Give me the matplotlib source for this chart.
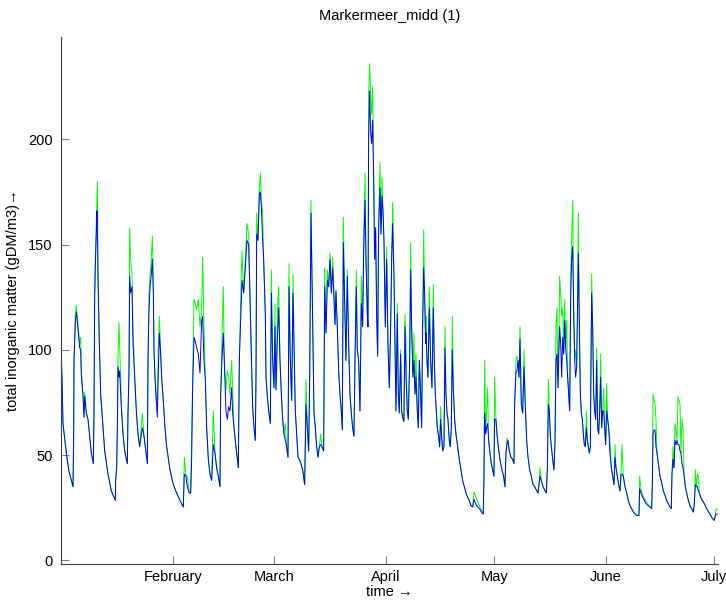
import matplotlib
matplotlib.use("Agg")
import matplotlib.pyplot as plt
import numpy as np

plt.rcParams['font.family'] = ['Liberation Sans', 'DejaVu Sans']

# ---- data (day of year offset from 1 January, value in gDM/m3) ----
days = [
    0.0, 0.28, 0.55, 1.0, 1.48, 2.12, 3.33, 3.51, 3.60, 3.97, 4.25, 4.71, 5.17, 5.45, 5.63, 6.10,
    6.37, 6.56, 7.02, 7.48, 7.94, 8.40, 8.96, 9.14, 9.33, 9.51, 9.97, 10.07, 10.25, 10.62, 10.99,
    11.64, 12.10, 13.02, 13.94, 15.05, 15.14, 15.42, 15.61, 15.79, 16.07, 16.25, 16.53, 16.71,
    17.18, 17.64, 18.10, 18.38, 18.56, 18.84, 19.02, 19.30, 19.67, 19.95, 20.41, 20.87, 21.33,
    21.79, 22.53, 23.0, 23.36, 23.92, 24.10, 24.38, 24.66, 25.02,
    25.3, 25.57, 25.76, 26.03, 26.31, 26.68, 26.96, 27.24, 27.60, 27.88,
    28.34, 28.80, 29.27, 30.19, 31.11, 32.04, 32.96, 33.88, 34.16, 34.62,
    34.99, 35.55, 35.92, 36.19, 36.47, 36.84, 37.21, 37.58, 38.04, 38.50,
    38.96, 39.24, 39.61, 39.98, 40.35, 40.81, 41.27, 41.73, 42.19, 42.66,
    43.12, 43.58, 44.04, 44.23, 44.59, 44.96, 45.24, 45.70, 46.07, 46.44,
    46.81, 47.27, 47.55, 47.92, 48.47, 49.12, 49.40, 49.77, 50.14,
    50.60, 51.06, 51.52, 51.99, 52.45, 52.73, 53.09, 53.46, 53.83, 54.02,
    54.20, 54.57, 54.94, 55.22, 55.50, 55.86, 56.14, 56.60, 56.79, 57.16,
    57.53, 57.99, 58.27, 58.64, 59.0, 59.28, 59.56, 59.93, 60.30, 60.67,
    61.04, 61.40, 61.77, 62.14, 62.42, 62.88, 63.16, 63.53, 63.90, 64.27,
    64.64, 64.91, 65.19, 65.65, 66.02, 66.48, 66.95, 67.50, 67.87, 68.24,
    68.61, 68.88, 69.25, 69.53, 69.81, 70.08, 70.45, 70.82, 71.19, 71.56,
    71.93, 72.30, 72.76, 73.04, 73.41, 73.78, 74.15, 74.52, 74.89, 75.26,
    75.90, 76.17, 76.54, 76.91, 77.28, 77.65, 77.93, 78.21, 78.57, 78.94,
    79.31, 79.68, 80.05, 80.42, 80.79, 81.16, 81.44, 81.81, 82.08, 82.45,
    82.82, 83.19, 83.56, 83.84, 84.21, 84.48, 84.85, 85.04, 85.22, 85.50,
    85.78, 86.05, 86.33, 86.61, 86.88, 87.16, 87.44, 87.72, 87.99, 88.36,
    88.64, 88.92, 89.19, 89.47, 89.84, 90.21, 90.58, 90.95, 91.32, 91.60,
    91.87, 92.24, 92.52, 92.79, 93.16, 93.44, 93.72, 94.09, 94.36, 94.64,
    94.99, 95.29, 95.57, 95.93, 96.21, 96.58, 96.86, 97.13, 97.50, 97.78,
    98.06, 98.34, 98.70, 98.98, 99.26, 99.63, 99.90, 100.18, 100.46, 100.73,
    101.01,
    101.10, 101.38, 101.65, 102.02, 102.39, 102.76, 103.13, 103.41, 103.69, 103.96,
    104.24, 104.61, 104.89, 105.16, 105.44, 105.72, 106.09, 106.36, 106.64, 106.92,
    107.19, 107.56, 107.84, 108.12, 108.39, 108.67, 109.04, 109.41, 109.87, 110.33,
    110.80, 111.26, 111.72, 112.18, 112.64, 113.10, 113.57, 114.03, 114.40, 114.77,
    115.14, 115.69, 116.15, 116.61, 116.98, 117.17, 117.35, 117.63, 117.91, 118.18,
    118.46, 118.83, 119.20, 119.57, 119.94, 120.12, 120.49, 120.77, 121.14, 121.60,
    122.15, 122.61, 122.98, 123.26, 123.54, 123.81, 124.18, 124.65, 125.11, 125.48,
    125.66, 126.03, 126.31, 126.59,
    126.88, 127.15, 127.52, 127.89, 128.26, 128.63, 129.00, 129.37, 129.83, 130.29,
    130.76, 131.22, 131.68, 132.14, 132.42, 132.69, 133.06, 133.53, 133.99, 134.45,
    134.73, 135.00, 135.28, 135.56, 135.84, 136.20, 136.57, 136.85, 137.13, 137.40,
    137.68, 137.87, 138.14, 138.42, 138.70, 138.97, 139.25, 139.53, 139.80, 140.08,
    140.36, 140.64, 140.91, 141.19, 141.47, 141.74, 142.02, 142.30, 142.57, 142.85,
    143.13, 143.31, 143.59, 143.87, 144.14, 144.42, 144.70, 144.97, 145.25, 145.53,
    145.81, 146.08, 146.36, 146.64, 146.82, 147.01, 147.28, 147.56, 147.84, 148.11,
    148.39, 148.67, 148.94, 149.22, 149.50, 149.78, 150.05, 150.33, 150.61, 150.88,
    151.16, 151.44, 151.72,
    152.08, 152.45, 152.82, 153.19, 153.47, 153.74, 154.11, 154.48, 154.85, 155.13,
    155.40, 155.77, 156.24, 156.70, 157.16, 157.62, 158.08, 158.54, 159.01, 159.47,
    160.11, 160.30, 160.67, 161.13, 161.59, 162.05, 162.70, 163.16, 163.62, 163.81,
    163.99, 164.27, 164.55, 164.82, 165.10, 165.47, 165.93, 166.39, 166.85, 167.31,
    167.78, 168.24, 168.70, 169.07, 169.25, 169.53, 169.81, 170.08, 170.36, 170.64,
    170.92, 171.19, 171.47, 171.75, 172.02, 172.30, 172.58, 172.95, 173.32, 173.78,
    174.24, 174.70, 175.17, 175.44, 175.72, 176.00, 176.27, 176.55, 176.83, 177.20,
    177.66, 178.21, 178.86, 179.41, 179.97, 180.52, 180.98, 181.26, 181.44, 181.81,
]

green_vals = [
    106, 87, 65, 58, 51, 43, 35, 60, 95, 117, 121, 112, 103, 106, 90, 79, 68, 80, 70, 67,
    59, 51, 46, 70, 127, 143, 172, 180, 135, 103, 79, 63, 52, 41, 33, 28.5, 38, 44, 63, 97,
    113, 103, 86, 74, 60, 52, 48, 46, 70, 90, 158, 143, 136, 110, 87, 71, 60, 54, 70, 59,
    54, 46, 95, 127, 135, 143,
    154, 135, 100, 87, 79, 73, 101, 116, 100, 87,
    76, 63, 54, 43, 36, 32, 28.5, 25.4, 49, 40,
    40, 32, 32, 60, 87, 124, 122, 119, 124, 111,
    119, 144, 111, 86, 63, 48, 41, 38, 71, 51,
    44, 40, 35, 79, 106, 130, 95, 81, 90, 87,
    79, 95, 82, 63, 54, 44, 95, 124, 147,
    127, 143, 160, 155, 117, 95, 73, 63, 57, 87,
    165, 152, 177, 184, 171, 165, 143, 117, 87, 78,
    71, 65, 138, 95, 82, 122, 81, 117, 130, 95,
    79, 67, 60, 65, 55, 49, 141, 95, 76, 136,
    95, 71, 63, 49, 48, 46, 43, 36, 86, 63,
    52, 86, 171, 135, 103, 70, 63, 54, 49, 54,
    60, 54, 52, 139, 108, 138, 130, 146, 127, 144,
    112, 128, 111, 90, 79, 71, 62, 163, 124, 95,
    138, 103, 79, 70, 63, 59, 95, 138, 100, 95,
    71, 135, 111, 155, 184, 143, 119, 111, 222, 236,
    222, 212, 225, 182, 143, 158, 117, 97, 160, 189,
    155, 182, 166, 152, 111, 149, 103, 82, 111, 143,
    170, 135, 101, 71, 122, 79, 70, 100, 71, 68,
    66, 117, 103, 71, 67, 95, 151, 111, 87, 108,
    79, 98, 71, 63, 95, 79, 63, 111, 157, 127,
    103,
    116, 95, 87, 130, 95, 82, 131, 95, 79, 71,
    63, 59, 54, 73, 59, 52, 54, 111, 79, 70,
    67, 57, 54, 63, 116, 82, 67, 60, 54, 48,
    43, 38, 35, 32, 30, 28.5, 26, 25.4, 32.5, 31,
    29, 27, 25, 23.5, 22.5, 40, 95, 60, 71, 82,
    57, 51, 46, 43, 40, 87, 67, 60, 54, 48,
    43, 40, 35, 51, 58, 57, 52, 49, 48, 46,
    74, 95, 97, 95,
    87, 111, 74, 70, 100, 73, 57, 49, 43, 40,
    36, 35, 33.5, 32, 36, 44, 38, 35, 33.5, 32,
    44, 86, 71, 59, 54, 48, 43, 57, 111, 120,
    82, 97, 135, 127, 116, 120, 98, 124, 101, 114,
    87, 79, 71, 135, 154, 171, 119, 95, 100, 92,
    127, 165, 111, 79, 70, 67, 60, 55, 54, 71,
    57, 54, 51, 54, 95, 136, 111, 79, 71, 67,
    101, 63, 60, 71, 98, 63, 71, 82, 63, 55,
    84, 67, 63,
    57, 44, 40, 36, 55, 44, 40, 36, 33, 41,
    55, 40, 35, 32, 28.5, 26, 24.6, 23, 22, 21.4,
    21.4, 40, 34, 31, 29.5, 28, 26.5, 25.4, 24.6, 36,
    79, 76, 74, 67, 51, 46, 40, 37, 33, 31,
    28.5, 27, 25.4, 24.6, 41, 54, 44, 65, 62, 57,
    78, 76, 74, 51, 67, 63, 41, 35, 32, 28.5,
    26, 24.6, 23, 27, 43, 35, 41, 40, 32, 30,
    28.5, 27, 24.6, 23, 21.4, 19.8, 19, 21.4, 24.6, 24,
]

blue_vals = [
    98, 87, 65, 58, 51, 43, 35, 60, 95, 113, 118, 110, 101, 100, 88, 78, 68, 78, 70, 67,
    59, 51, 46, 70, 125, 140, 166, 160, 135, 103, 79, 63, 52, 41, 33, 28.5, 38, 44, 63, 92,
    87, 90, 79, 73, 60, 52, 48, 46, 70, 90, 135, 127, 130, 103, 87, 71, 60, 54, 63, 59,
    54, 46, 95, 119, 130, 136,
    143, 127, 100, 87, 79, 68, 90, 108, 98, 87,
    76, 63, 54, 43, 36, 32, 28.5, 25.4, 41, 40,
    35, 32, 32, 48, 82, 106, 104, 101, 98, 89,
    114, 116, 95, 86, 63, 48, 41, 38, 55, 51,
    44, 40, 35, 79, 95, 108, 95, 71, 67, 73,
    71, 82, 70, 63, 54, 44, 95, 114, 133,
    127, 139, 152, 150, 117, 95, 73, 63, 57, 87,
    155, 152, 174, 175, 168, 152, 143, 117, 87, 78,
    71, 65, 127, 95, 82, 111, 81, 105, 120, 95,
    79, 67, 60, 57, 55, 49, 130, 95, 76, 127,
    95, 71, 63, 49, 48, 46, 43, 36, 74, 63,
    52, 86, 165, 135, 103, 70, 63, 54, 49, 54,
    55, 54, 52, 130, 108, 133, 130, 143, 127, 139,
    112, 128, 111, 90, 79, 71, 62, 151, 124, 95,
    135, 103, 79, 70, 63, 59, 95, 130, 100, 95,
    71, 122, 111, 146, 171, 143, 117, 111, 201, 223,
    203, 198, 209, 182, 143, 158, 117, 97, 158, 177,
    155, 173, 166, 152, 111, 143, 103, 82, 111, 143,
    160, 135, 101, 71, 117, 79, 70, 98, 71, 68,
    66, 111, 87, 71, 67, 95, 138, 111, 87, 95,
    79, 87, 71, 63, 95, 79, 63, 111, 139, 127,
    103,
    108, 95, 87, 120, 95, 82, 120, 95, 79, 71,
    63, 59, 54, 67, 59, 52, 54, 101, 79, 70,
    67, 57, 54, 63, 100, 82, 67, 60, 54, 48,
    43, 38, 35, 32, 30, 28.5, 26, 25.4, 29, 27.5,
    26, 25, 24, 22.5, 22, 40, 70, 60, 63, 65,
    57, 51, 46, 43, 40, 67, 67, 60, 54, 48,
    43, 40, 35, 51, 55, 57, 52, 49, 48, 46,
    74, 89, 90, 95,
    87, 105, 74, 70, 92, 73, 57, 49, 43, 40,
    36, 35, 33.5, 32, 36, 40, 38, 35, 33.5, 32,
    44, 74, 71, 59, 54, 48, 43, 57, 95, 98,
    82, 97, 111, 103, 87, 106, 98, 114, 101, 95,
    87, 79, 71, 124, 144, 149, 119, 95, 87, 92,
    127, 146, 111, 79, 70, 67, 60, 55, 54, 63,
    57, 54, 51, 54, 95, 127, 111, 79, 71, 67,
    95, 63, 60, 71, 87, 63, 71, 71, 63, 55,
    71, 67, 63,
    51, 44, 40, 36, 49, 44, 40, 36, 33, 41,
    41, 40, 35, 32, 28.5, 26, 24.6, 23, 22, 21.4,
    21.4, 34, 32, 30, 28.5, 27, 26, 25.4, 24.6, 36,
    60, 62, 62, 54, 51, 46, 40, 37, 33, 31,
    28.5, 27, 25.4, 24.6, 41, 48, 44, 57, 55, 57,
    55, 55, 52, 51, 46, 44, 41, 35, 32, 28.5,
    26, 24.6, 23, 27, 36, 35, 35, 33, 32, 30,
    28.5, 27, 24.6, 23, 21.4, 19.8, 19, 21.4, 22, 22,
]

month_ticks = [31, 59, 90, 120, 151, 181]
month_labels = ['February', 'March', 'April', 'May', 'June', 'July']
y_ticks = [0, 50, 100, 150, 200]

n = min(len(days), len(green_vals), len(blue_vals))

fig = plt.figure(figsize=(7.26, 6.0), dpi=100)
ax = fig.add_axes([61/726, 1-564/600, (718-61)/726, (564-37)/600])

ax.plot(days[:n], green_vals[:n], color='#00ff00', lw=0.7)
ax.plot(days[:n], blue_vals[:n], color='#0000ff', lw=0.7)

ax.set_xlim(0, 182)
ax.set_ylim(-1.7, 248.6)
ax.set_xticks(month_ticks)
ax.set_xticklabels(month_labels)
ax.set_yticks(y_ticks)

for s in ['top', 'right']:
    ax.spines[s].set_visible(False)
for s in ['left', 'bottom']:
    ax.spines[s].set_color('#404040')
    ax.spines[s].set_linewidth(0.8)
ax.tick_params(direction='in', length=6, width=0.8, color='#808080',
               labelsize=10.5, labelcolor='black')
ax.tick_params(axis='x', pad=4)
ax.tick_params(axis='y', pad=6)

ax.set_title('Markermeer_midd (1)', fontsize=10.5, pad=12)
ax.set_xlabel('time \u2192', fontsize=10.5, labelpad=1)
ax.set_ylabel('total inorganic matter (gDM/m3)\u2192', fontsize=10.5, labelpad=6)

fig.savefig('out.png', dpi=100)
